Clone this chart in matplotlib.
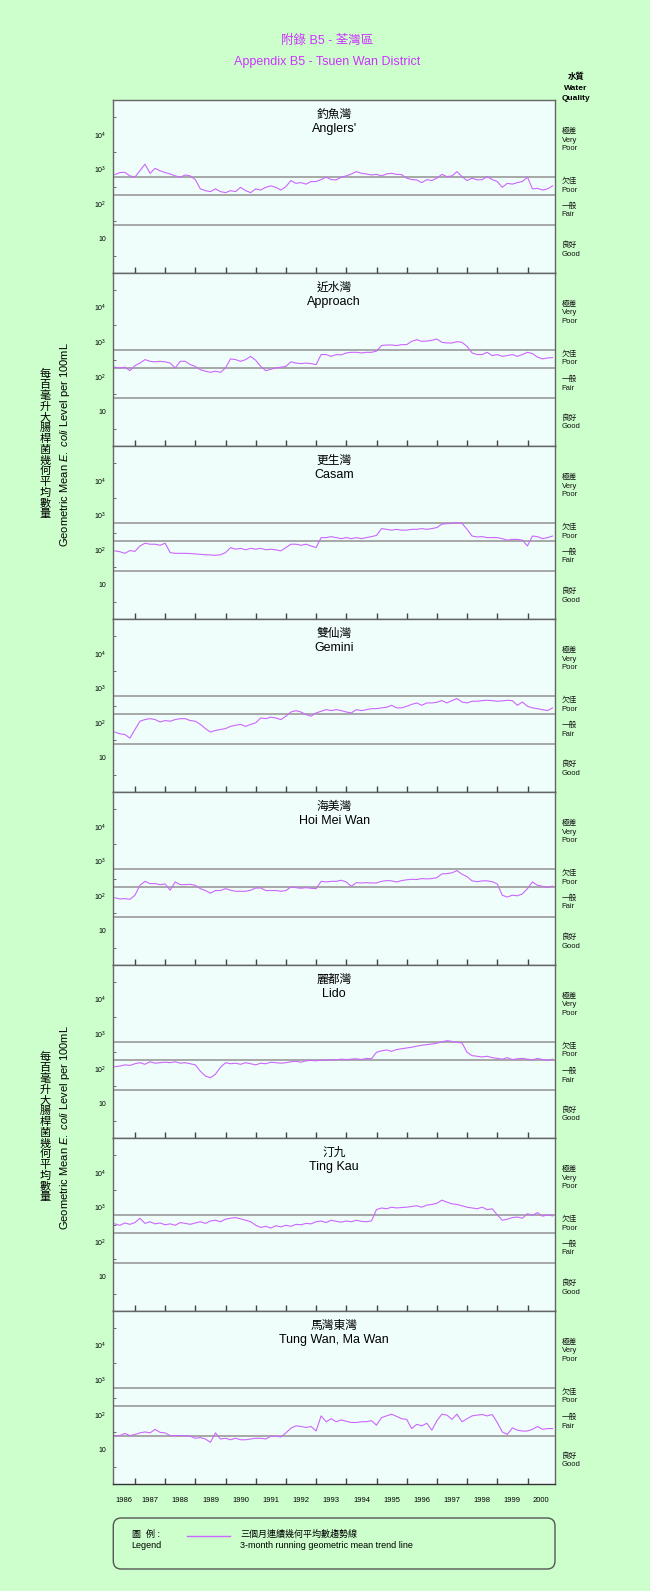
import numpy as np
import matplotlib.pyplot as plt
from matplotlib.patches import FancyBboxPatch
from matplotlib.ticker import FixedLocator, NullFormatter

plt.rcParams['font.family'] = ['Liberation Sans', 'Noto Sans CJK TC']
plt.rcParams['mathtext.fontset'] = 'custom'
plt.rcParams['mathtext.rm'] = 'Liberation Sans'
plt.rcParams['mathtext.it'] = 'Liberation Sans:italic'

# sampling dates (decimal years, about every 2 months)
years = np.round(1986.33 + np.arange(88) / 6, 3)

beaches_zh = ['釣魚灣', '近水灣', '更生灣', '雙仙灣', '海美灣', '麗都灣', '汀九', '馬灣東灣']
beaches_en = ["Anglers'", 'Approach', 'Casam', 'Gemini', 'Hoi Mei Wan', 'Lido', 'Ting Kau', 'Tung Wan, Ma Wan']

# 3-month running geometric mean E. coli per 100mL
anglers = [700, 800, 810, 640, 590, 910, 1400, 760, 1060, 900,
           800, 730, 640, 590, 680, 640, 500, 270, 240, 225,
           270, 225, 210, 240, 225, 300, 240, 210, 270, 250,
           300, 330, 300, 250, 314, 470, 390, 410, 370, 440,
           440, 500, 590, 500, 490, 590, 640, 730, 850, 760,
           730, 680, 710, 640, 730, 760, 710, 700, 550, 500,
           490, 410, 500, 470, 550, 710, 610, 640, 850, 610,
           470, 550, 490, 500, 610, 500, 440, 300, 390, 370,
           410, 440, 590, 270, 280, 250, 270, 330]
approach = [190, 180, 190, 150, 210, 250, 314, 280, 270, 280,
            270, 250, 180, 280, 280, 225, 200, 160, 145, 135,
            145, 135, 180, 330, 314, 280, 314, 390, 300, 200,
            150, 165, 180, 190, 200, 270, 250, 240, 250, 240,
            225, 440, 440, 390, 440, 430, 490, 510, 510, 490,
            510, 510, 550, 800, 830, 830, 800, 850, 850, 1060,
            1180, 1060, 1080, 1130, 1240, 990, 950, 950, 1040, 990,
            760, 490, 440, 440, 510, 410, 440, 390, 410, 440,
            390, 440, 510, 470, 370, 330, 350, 360]
casam = [93, 88, 79, 95, 90, 129, 155, 145, 145, 135,
         155, 83, 79, 79, 79, 78, 76, 74, 72, 71,
         69, 72, 83, 116, 104, 110, 100, 110, 104, 110,
         100, 104, 100, 93, 116, 145, 145, 135, 145, 129,
         116, 225, 225, 240, 225, 210, 225, 210, 225, 210,
         225, 240, 260, 410, 390, 370, 390, 370, 370, 390,
         390, 410, 390, 410, 440, 550, 570, 580, 610, 580,
         390, 250, 235, 240, 225, 225, 225, 210, 190, 200,
         200, 190, 129, 250, 240, 210, 225, 250]
gemini = [54, 48, 46, 36, 64, 111, 124, 132, 124, 106,
          116, 111, 124, 132, 132, 116, 111, 90, 68, 54,
          60, 64, 68, 79, 85, 90, 79, 90, 100, 138,
          132, 145, 138, 124, 155, 205, 225, 205, 173, 155,
          193, 215, 240, 225, 240, 225, 205, 193, 240, 225,
          240, 256, 256, 270, 281, 320, 270, 270, 300, 340,
          375, 320, 375, 375, 392, 438, 375, 438, 500, 400,
          375, 420, 420, 438, 448, 438, 420, 430, 448, 438,
          320, 400, 300, 270, 256, 240, 225, 270]
hoi_mei_wan = [88, 81, 83, 79, 104, 201, 262, 225, 225, 210,
               220, 145, 251, 210, 210, 215, 201, 161, 142, 119,
               142, 142, 161, 145, 135, 135, 135, 145, 168, 168,
               142, 142, 142, 135, 142, 180, 172, 165, 172, 165,
               161, 262, 251, 262, 262, 281, 251, 188, 240, 235,
               240, 235, 235, 262, 275, 270, 251, 275, 290, 300,
               295, 314, 308, 314, 335, 430, 438, 460, 535, 420,
               358, 270, 256, 270, 270, 256, 220, 104, 92, 104,
               100, 114, 161, 251, 201, 188, 176, 190]
lido = [115, 120, 130, 125, 140, 150, 135, 160, 145, 150,
        155, 150, 160, 145, 150, 140, 130, 85, 62, 55,
        70, 110, 150, 140, 145, 135, 150, 140, 130, 145,
        140, 155, 150, 145, 150, 160, 165, 155, 170, 175,
        170, 180, 175, 185, 180, 190, 185, 190, 195, 185,
        200, 195, 300, 330, 350, 320, 360, 380, 400, 420,
        450, 480, 500, 520, 550, 600, 650, 620, 580, 560,
        300, 240, 230, 220, 230, 210, 200, 190, 210, 185,
        195, 200, 190, 180, 200, 185, 175, 190]
ting_kau = [330, 300, 350, 320, 360, 480, 340, 380, 330, 350,
            310, 330, 300, 360, 340, 320, 350, 380, 340, 400,
            420, 380, 450, 480, 500, 460, 420, 380, 300, 260,
            280, 250, 290, 270, 300, 280, 320, 310, 340, 330,
            380, 400, 360, 420, 390, 370, 400, 380, 420, 390,
            380, 400, 850, 950, 900, 1000, 950, 980, 1000, 1050,
            1100, 1000, 1150, 1200, 1300, 1600, 1400, 1250, 1200, 1100,
            1000, 950, 900, 1000, 850, 900, 600, 420, 450, 500,
            520, 480, 650, 580, 700, 550, 600, 560]
tung_wan = [25, 25, 29, 25, 27, 30, 32, 30, 38, 31,
            30, 25, 25, 25, 25, 24, 21, 22, 20, 16,
            30, 20, 21, 19, 21, 19, 19, 20, 21, 21,
            20, 24, 24, 23, 30, 41, 48, 46, 43, 46,
            34, 93, 63, 77, 63, 71, 65, 60, 60, 63,
            63, 68, 50, 83, 93, 104, 90, 77, 74, 40,
            53, 48, 57, 36, 67, 104, 98, 74, 104, 63,
            77, 93, 98, 102, 93, 102, 60, 32, 27, 42,
            36, 34, 34, 38, 46, 38, 40, 40]

series = [anglers, approach, casam, gemini, hoi_mei_wan, lido, ting_kau, tung_wan]

grade_lines = [24, 180, 610]          # good / fair / poor limits
year_ticks = list(range(1987, 2001))
year_labels = list(range(1986, 2001))
x_start, x_end = 1986.28, 2000.91

bg = '#ccffcc'
trend = '#cc66ff'
W, H = 650, 1591

fig = plt.figure(figsize=(W / 100, H / 100), dpi=100, facecolor=bg)

left, right = 113.3, 555
top0, ph = 100, 173

# quality grade labels on the right: (text, pixel offset from panel top)
grade_text = [('極差', 31), ('Very', 40), ('Poor', 48.5), ('欠佳', 81), ('Poor', 90),
              ('一般', 106), ('Fair', 115), ('良好', 145), ('Good', 154)]

for i, vals in enumerate(series):
    top = top0 + i * ph
    ax = fig.add_axes([left / W, 1 - (top + ph) / H, (right - left) / W, ph / H])
    ax.set_facecolor('#effefb')
    ax.set_yscale('log')
    ax.set_ylim(1, 1e5)
    ax.set_xlim(x_start, x_end)
    for g in grade_lines:
        ax.axhline(g, color='#9a9a9a', lw=1.2, zorder=1)
    ax.plot(years, vals, color=trend, lw=0.8, zorder=2)

    ax.yaxis.set_major_locator(FixedLocator([10, 100, 1000, 10000]))
    ax.set_yticklabels(['10', '$10^2$', '$10^3$', '$10^4$'])
    ax.yaxis.set_minor_locator(FixedLocator([10 ** 0.5, 10 ** 1.5, 10 ** 2.5, 10 ** 3.5, 10 ** 4.5]))
    ax.yaxis.set_minor_formatter(NullFormatter())
    ax.tick_params(axis='y', which='major', length=0, labelsize=5, pad=5)
    ax.tick_params(axis='y', which='minor', direction='in', length=2, color='#555555')

    ax.xaxis.set_major_locator(FixedLocator(year_ticks))
    ax.tick_params(axis='x', which='major', direction='in', length=4, width=1,
                   color='#444444', labelbottom=False)
    if i == len(series) - 1:
        centers = [(max(y, x_start) + min(y + 1, x_end)) / 2 for y in year_labels]
        ax.xaxis.set_minor_locator(FixedLocator(centers))
        ax.xaxis.set_ticklabels([str(y) for y in year_labels], minor=True)
        ax.tick_params(axis='x', which='minor', length=0, labelsize=5.5, pad=9)
    else:
        ax.xaxis.set_minor_locator(FixedLocator([]))

    for s in ax.spines.values():
        s.set_color('#666666')
        s.set_linewidth(1)
    ax.spines['bottom'].set_color('#333333')

    ax.text(0.5, 1 - 15 / ph, beaches_zh[i], transform=ax.transAxes,
            ha='center', va='center', fontsize=8.5)
    ax.text(0.5, 1 - 29 / ph, beaches_en[i], transform=ax.transAxes,
            ha='center', va='center', fontsize=9)

    for txt, off in grade_text:
        ax.text((561.5 - left) / (right - left), 1 - off / ph, txt, transform=ax.transAxes,
                ha='left', va='center', fontsize=5.5, color='#111111')

# overlay in pixel coordinates for titles, axis labels and legend box
ov = fig.add_axes([0, 0, 1, 1])
ov.set_xlim(0, W)
ov.set_ylim(H, 0)
ov.axis('off')

ov.text(327, 41, '附錄 B5 - 荃灣區', color='#cc33ff', fontsize=9, ha='center', va='center')
ov.text(327, 62, 'Appendix B5 - Tsuen Wan District', color='#cc33ff', fontsize=9,
        ha='center', va='center')

ov.text(576, 77, '水質', fontsize=6, fontweight='bold', ha='center', va='center')
ov.text(576, 88, 'Water', fontsize=6, fontweight='bold', ha='center', va='center')
ov.text(576, 98, 'Quality', fontsize=6, fontweight='bold', ha='center', va='center')

ylab_zh = '每百毫升大腸桿菌幾何平均數量'
ylab_en = r'Geometric Mean $\mathit{E.\ coli}$ Level per 100mL'
for yc in (444, 1127):
    ov.text(45, yc, '\n'.join(ylab_zh), fontsize=8, ha='center', va='center', linespacing=1.08)
    ov.text(65, yc, ylab_en, fontsize=8, rotation=90, ha='center', va='center')

box = FancyBboxPatch((113.3, 1518), 555 - 113.3, 51,
                     boxstyle='round,pad=0,rounding_size=8',
                     fc='none', ec='#555555', lw=1)
ov.add_patch(box)
ov.plot([187, 230], [1535.5, 1535.5], color=trend, lw=1)
ov.text(131.5, 1534, '圖  例 :', fontsize=6.5, ha='left', va='center')
ov.text(131.5, 1545.5, 'Legend', fontsize=6.5, ha='left', va='center')
ov.text(240, 1534, '三個月連續幾何平均數趨勢線', fontsize=6.5, ha='left', va='center')
ov.text(240, 1545.5, '3-month running geometric mean trend line', fontsize=6.5,
        ha='left', va='center')

fig.savefig('out.png', dpi=100, facecolor=bg)
